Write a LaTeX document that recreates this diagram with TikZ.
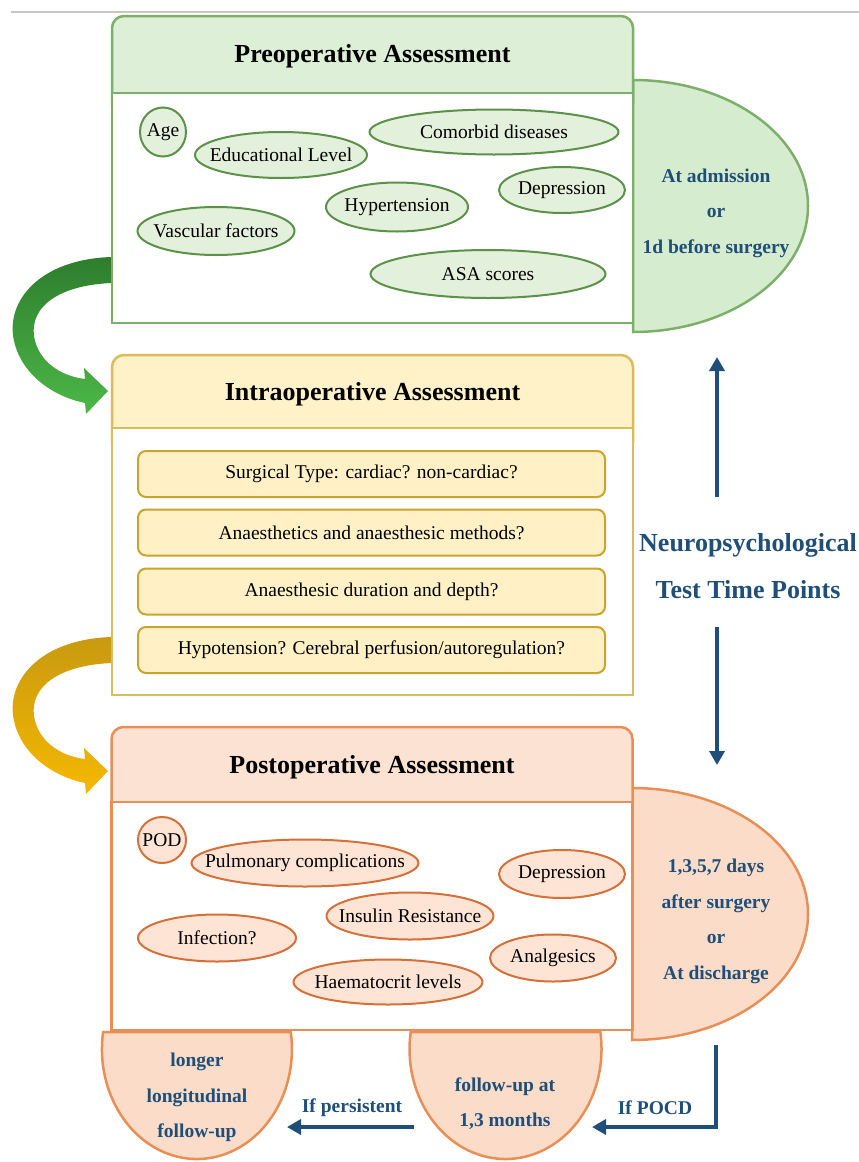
\documentclass[tikz,border=0pt]{standalone}
\usepackage{fontspec}
\setmainfont{Liberation Serif}
\usetikzlibrary{shapes.geometric,arrows.meta}
\definecolor{gline}{HTML}{7DAF6B}
\definecolor{ghead}{HTML}{DDEFD6}
\definecolor{gdark}{HTML}{5B9148}
\definecolor{gfill}{HTML}{E3F1DC}
\definecolor{gsemi}{HTML}{D6ECCF}
\definecolor{yline}{HTML}{D8BE5A}
\definecolor{yhead}{HTML}{FFF1C8}
\definecolor{ydark}{HTML}{C9A42E}
\definecolor{yfill}{HTML}{FFF0C6}
\definecolor{oline}{HTML}{E88F58}
\definecolor{ohead}{HTML}{FCE2D2}
\definecolor{odark}{HTML}{D4703A}
\definecolor{ofill}{HTML}{FDE4D4}
\definecolor{osemi}{HTML}{FBDCC8}
\definecolor{navy}{HTML}{1F4E79}
\definecolor{garA}{HTML}{2E7D2E}
\definecolor{garB}{HTML}{4CB847}
\definecolor{yarA}{HTML}{C99A10}
\definecolor{yarB}{HTML}{F5B800}
\newcommand\zw[1]{\makebox[0pt]{#1}}
\begin{document}
\begin{tikzpicture}[x=1pt,y=-1pt,
 txt/.style={font=\fontsize{19.5}{23}\selectfont},
 ttl/.style={font=\bfseries\fontsize{26}{30}\selectfont},
 ell/.style={ellipse, inner sep=0pt, line width=2pt, txt},
 gell/.style={ell, draw=gdark, fill=gfill},
 oell/.style={ell, draw=odark, fill=ofill},
 hdr/.style={rectangle, rounded corners=12pt, line width=2.5pt, minimum width=521pt, minimum height=100pt},
 bdy/.style={rectangle, line width=2.5pt, fill=white, minimum width=521pt},
 ibox/.style={rectangle, rounded corners=8pt, line width=2pt, draw=ydark, fill=yfill, minimum width=467pt, minimum height=46pt, inner sep=0pt, txt},
 bltxt/.style={text=navy, font=\bfseries\fontsize{19.5}{35.5}\selectfont, align=center},
 navarr/.style={draw=navy, line width=4pt, -{Triangle[length=14pt,width=15pt]}},
 semi/.style={line width=2.5pt},
]
\useasboundingbox (0,0) rectangle (859,1162);
\draw[black!22, line width=1.5pt] (11,12) -- (859,12);

% curved arrows
\path[top color=garA, bottom color=garB] (112,257) .. controls (40,259) and (5,301) .. (14,341) .. controls (22,376) and (55,397) .. (85,403) -- (86,414) -- (108,391) -- (84,368) -- (85,379) .. controls (60,376) and (38,361) .. (34,336) .. controls (30,306) and (60,285) .. (112,283) -- cycle;
\path[top color=yarA, bottom color=yarB] (112,637) .. controls (40,639) and (5,681) .. (14,721) .. controls (22,756) and (55,777) .. (85,783) -- (86,794) -- (108,771) -- (84,748) -- (85,759) .. controls (60,756) and (38,741) .. (34,716) .. controls (30,686) and (60,665) .. (112,663) -- cycle;

% half ellipses
\draw[semi, draw=gline, fill=gsemi] (633,332) arc[start angle=90,end angle=-90,x radius=175,y radius=126] -- cycle;
\draw[semi, draw=oline, fill=osemi] (632,1040) arc[start angle=90,end angle=-90,x radius=176,y radius=126] -- cycle;
\draw[semi, draw=oline, fill=osemi] (103.1,1032) arc[start angle=188.9,end angle=-8.9,x radius=95,y radius=110] -- cycle;
\draw[semi, draw=oline, fill=osemi] (410.7,1032) arc[start angle=188.9,end angle=-8.9,x radius=96,y radius=110] -- cycle;

% preoperative
\node[hdr, draw=gline, fill=ghead] (preH) at (372.5,66) {};
\node[bdy, draw=gline, minimum height=230pt] (preB) at (372.5,208) {};
\node[ttl] (preT) at (372.5,56) {Preoperative Assessment};
\node[gell, minimum width=46pt, minimum height=49pt] (age) at (163,132) {\zw{Age}};
\node[gell, minimum width=172pt, minimum height=46pt] (edu) at (281,155) {\zw{Educational Level}};
\node[gell, minimum width=249pt, minimum height=45pt] (com) at (494,132) {\zw{Comorbid diseases}};
\node[gell, minimum width=126pt, minimum height=46pt] (dep1) at (562,190) {\zw{Depression}};
\node[gell, minimum width=142pt, minimum height=49pt] (hyp) at (397,207) {\zw{Hypertension}};
\node[gell, minimum width=157pt, minimum height=48pt] (vas) at (216,231) {\zw{Vascular factors}};
\node[gell, minimum width=235pt, minimum height=48pt] (asa) at (488,274) {\zw{ASA scores}};

% intraoperative
\node[hdr, draw=yline, fill=yhead] (intH) at (372.5,405) {};
\node[bdy, draw=yline, minimum height=267pt] (intB) at (372.5,561.5) {};
\node[ttl] (intT) at (372.5,394) {Intraoperative Assessment};
\node[ibox] (i1) at (371.5,474) {Surgical Type: cardiac? non-cardiac?};
\node[ibox] (i2) at (371.5,532.5) {Anaesthetics and anaesthesic methods?};
\node[ibox] (i3) at (371.5,591.5) {Anaesthesic duration and depth?};
\node[ibox] (i4) at (371.5,650) {Hypotension? Cerebral perfusion/autoregulation?};

% postoperative
\node[hdr, draw=oline, fill=ohead] (posH) at (372,777) {};
\node[bdy, draw=oline, minimum height=228pt] (posB) at (372,916) {};
\node[ttl] (posT) at (372,767) {Postoperative Assessment};
\node[oell, minimum width=48pt, minimum height=46pt] (pod) at (162,840) {\zw{POD}};
\node[oell, minimum width=227pt, minimum height=47pt] (pul) at (305,863) {\zw{Pulmonary complications}};
\node[oell, minimum width=126pt, minimum height=48pt] (dep2) at (562,874) {\zw{Depression}};
\node[oell, minimum width=167pt, minimum height=47pt] (ins) at (410,916) {\zw{Insulin Resistance}};
\node[oell, minimum width=158pt, minimum height=47pt] (inf) at (217,938) {\zw{Infection?}};
\node[oell, minimum width=126pt, minimum height=47pt] (ana) at (553,958) {\zw{Analgesics}};
\node[oell, minimum width=189pt, minimum height=45pt] (hae) at (388,982) {\zw{Haematocrit levels}};

% blue texts
\node[bltxt] (adm) at (716,213) {At admission\\or\\1d before surgery};
\node[bltxt] (dis) at (716,921.5) {1,3,5,7 days\\after surgery\\or\\At discharge};
\node[bltxt] (lng) at (197,1097.5) {longer\\longitudinal\\follow-up};
\node[bltxt] (fup) at (505,1103.5) {follow-up at\\1,3 months};
\node[bltxt, font=\bfseries\fontsize{26}{47}\selectfont] (ntp) at (748,566.5) {Neuropsychological\\Test Time Points};
\node[bltxt] (ifp) at (352,1108) {If persistent};
\node[bltxt] (ifc) at (655,1108) {If POCD};

% arrows
\coordinate (upS) at (717,497);
\coordinate (upE) at (717,357);
\coordinate (dnS) at (717,627);
\coordinate (dnE) at (717,765);
\coordinate (pcS) at (716,1045);
\coordinate (pcE) at (592,1127);
\coordinate (psS) at (414,1127);
\coordinate (psE) at (287,1127);
\draw[navarr] (upS) -- (upE);
\draw[navarr] (dnS) -- (dnE);
\draw[navarr] (pcS) |- (pcE);
\draw[navarr] (psS) -- (psE);
\end{tikzpicture}
\end{document}
